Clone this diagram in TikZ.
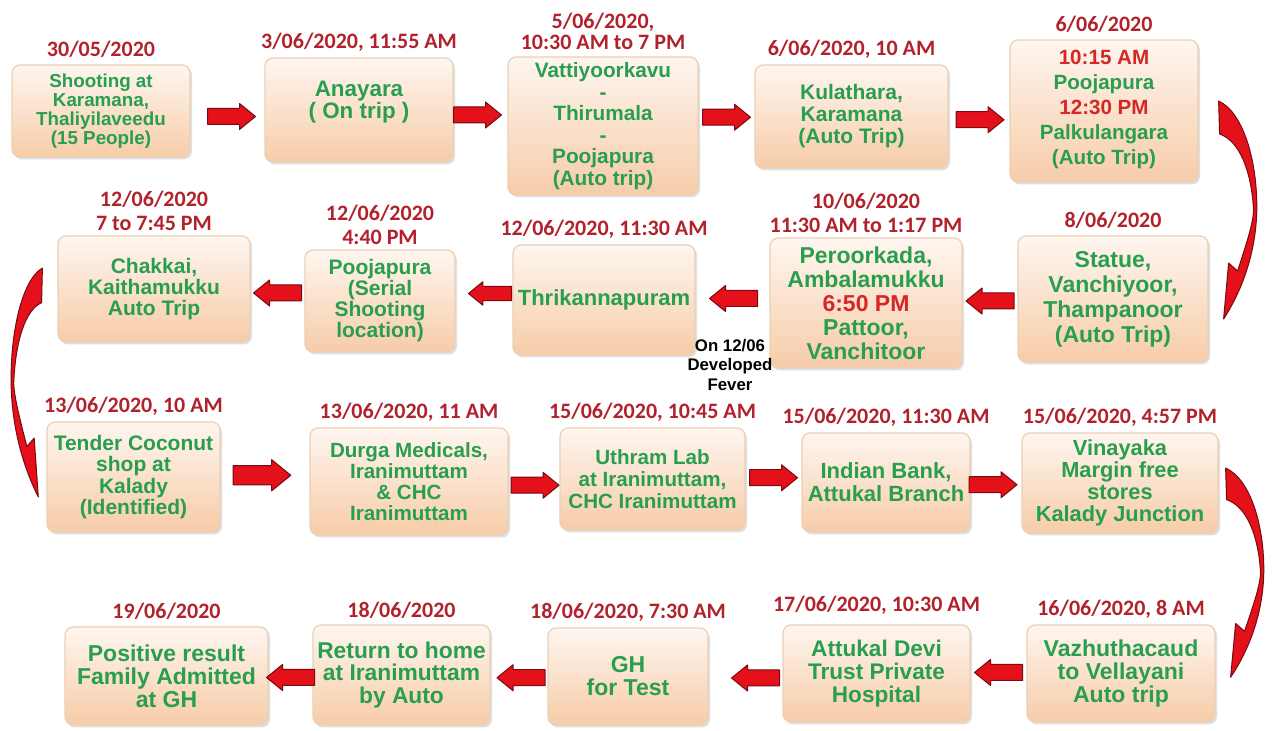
\documentclass[tikz,border=0pt]{standalone}
\usepackage{fontspec}
\usetikzlibrary{positioning,calc,shadows}
\newfontfamily\boxfont{Liberation Sans}
\newfontfamily\datefont{Carlito}
\definecolor{placegreen}{RGB}{40,158,78}
\definecolor{datered}{RGB}{178,34,44}
\definecolor{timered}{RGB}{214,38,38}
\definecolor{boxtop}{RGB}{254,246,240}
\definecolor{boxbottom}{RGB}{247,204,168}
\definecolor{boxline}{RGB}{236,208,182}
\definecolor{arrowred}{RGB}{228,16,26}
\definecolor{arrowdark}{RGB}{120,10,16}
\tikzset{
  txt/.style 2 args={font=\boxfont\bfseries\fontsize{#1}{#2}\selectfont},
  place/.style={draw=boxline, line width=0.6pt, rounded corners=4pt, top color=boxtop, bottom color=boxbottom,
    drop shadow={opacity=0.25, shadow xshift=1pt, shadow yshift=-1.2pt}, align=center, text=placegreen,
    inner sep=1pt, txt={11}{11.5}},
  date/.style={text=datered, align=center, inner sep=1pt, font=\datefont\bfseries\fontsize{11}{12}\selectfont},
  fatarrow/.pic={\draw[fill=arrowred, draw=arrowdark, line width=0.5pt, line join=round]
    (-24,-8)--(8,-8)--(8,-13)--(24,0)--(8,13)--(8,8)--(-24,8)--cycle;},
  bendarrow/.pic={\draw[fill=arrowred, draw=arrowdark, line width=0.5pt, line join=round]
    (0,0) .. controls (26,12) and (40,65) .. (38,115) .. controls (36,155) and (23,190) .. (5,218)
    -- (10,162) -- (19,170) .. controls (27,145) and (34,125) .. (35,110)
    .. controls (33,70) and (21,40) .. (1,33) -- cycle;}
}
\begin{document}
\begin{tikzpicture}[x=0.5pt, y=-0.5pt]
  \fill[white] (0,0) rectangle (1280,731);
  \useasboundingbox (0,0) rectangle (1280,731);
  % first row
  \node[place, txt={9.4}{9.5}, minimum width=89pt, minimum height=46pt] (b1) at (101,111) {Shooting at\\Karamana,\\Thaliyilaveedu\\(15 People)};
  \node[place, txt={11.2}{11}, minimum width=94pt, minimum height=52pt] (b2) at (359,110) {Anayara\\( On trip )\\[-1pt]};
  \node[place, txt={10.4}{10.75}, minimum width=95pt, minimum height=69pt] (b3) at (603,126) {Vattiyoorkavu\\-\\Thirumala\\-\\Poojapura\\(Auto trip)};
  \node[place, txt={10.5}{11}, minimum width=96.5pt, minimum height=51.5pt] (b4) at (851.5,116.5) {Kulathara,\\Karamana\\(Auto Trip)};
  \node[place, txt={10.3}{12.5}, minimum width=94pt, minimum height=71pt] (b5) at (1104,111) {\textcolor{timered}{10:15 AM}\\Poojapura\\\textcolor{timered}{12:30 PM}\\Palkulangara\\(Auto Trip)\\[-9pt]};
  % second row
  \node[place, txt={11.5}{12.5}, minimum width=95pt, minimum height=63pt] (b6) at (1113,299) {Statue,\\Vanchiyoor,\\Thampanoor\\(Auto Trip)};
  \node[place, txt={11.5}{12}, minimum width=96pt, minimum height=65pt] (b7) at (866,303) {Peroorkada,\\Ambalamukku\\\textcolor{timered}{6:50 PM}\\Pattoor,\\Vanchitoor};
  \node[place, minimum width=91pt, minimum height=55pt] (b8) at (604,300) {Thrikannapuram};
  \node[place, txt={10.5}{10.5}, minimum width=75pt, minimum height=51pt] (b9) at (380,301) {Poojapura\\(Serial\\Shooting\\location)};
  \node[place, txt={10.5}{10.5}, minimum width=96pt, minimum height=53pt] (b10) at (154,289) {Chakkai,\\Kaithamukku\\Auto Trip};
  % third row
  \node[place, txt={10.5}{10.75}, minimum width=86.5pt, minimum height=55pt] (b11) at (133.5,477) {Tender Coconut\\shop at\\Kalady\\(Identified)};
  \node[place, txt={10.3}{10.5}, minimum width=99pt, minimum height=53.5pt] (b12) at (409,481.5) {Durga Medicals,\\Iranimuttam\\\& CHC\\Iranimuttam};
  \node[place, txt={10.3}{11}, minimum width=92.5pt, minimum height=51pt] (b13) at (652.5,479) {Uthram Lab\\at Iranimuttam,\\CHC Iranimuttam};
  \node[place, minimum width=84pt, minimum height=49.5pt] (b14) at (886,482.5) {Indian Bank,\\Attukal Branch};
  \node[place, txt={10.9}{11}, minimum width=98pt, minimum height=50pt] (b15) at (1120,483) {Vinayaka\\Margin free\\stores\\Kalady Junction};
  % fourth row
  \node[place, txt={11.5}{11.5}, minimum width=94pt, minimum height=48.5pt] (b16) at (1121,673.5) {Vazhuthacaud\\to Vellayani\\Auto trip};
  \node[place, txt={11.3}{11.5}, minimum width=93.5pt, minimum height=48.5pt] (b17) at (876.5,673.5) {Attukal Devi\\Trust Private\\Hospital};
  \node[place, txt={11.5}{11.5}, minimum width=80pt, minimum height=48.5pt] (b18) at (628,676.5) {GH\\for Test};
  \node[place, txt={11.4}{11.25}, minimum width=88.5pt, minimum height=50pt] (b19) at (401.5,675) {Return to home\\at Iranimuttam\\by Auto};
  \node[place, txt={11.5}{11.5}, minimum width=101.5pt, minimum height=49pt] (b20) at (166.5,676) {Positive result\\Family Admitted\\at GH};
  % dates
  \node[date, above=2pt of b1] (d1) {30/05/2020};
  \node[date, above=2pt of b2] (d2) {3/06/2020, 11:55 AM};
  \node[date, above=2pt of b3, font=\datefont\bfseries\fontsize{11}{10.5}\selectfont] (d3) {5/06/2020,\\10:30 AM to 7 PM};
  \node[date, above=2pt of b4] (d4) {6/06/2020, 10 AM};
  \node[date, above=2pt of b5] (d5) {6/06/2020};
  \node[date, above=2pt of b6] (d6) {8/06/2020};
  \node[date, above=1pt of b7] (d7) {10/06/2020\\11:30 AM to 1:17 PM};
  \node[date, above=2pt of b8] (d8) {12/06/2020, 11:30 AM};
  \node[date, above=1pt of b9] (d9) {12/06/2020\\4:40 PM};
  \node[date, above=1pt of b10] (d10) {12/06/2020\\7 to 7:45 PM};
  \node[date, above=2pt of b11] (d11) {13/06/2020, 10 AM};
  \node[date, above=2pt of b12] (d12) {13/06/2020, 11 AM};
  \node[date, above=2pt of b13] (d13) {15/06/2020, 10:45 AM};
  \node[date, above=2pt of b14] (d14) {15/06/2020, 11:30 AM};
  \node[date, above=2pt of b15] (d15) {15/06/2020, 4:57 PM};
  \node[date, above=2pt of b16] (d16) {16/06/2020, 8 AM};
  \node[date, above=4pt of b17] (d17) {17/06/2020, 10:30 AM};
  \node[date, above=2pt of b18] (d18) {18/06/2020, 7:30 AM};
  \node[date, above=2pt of b19] (d19) {18/06/2020};
  \node[date, above=2pt of b20] (d20) {19/06/2020};
  \node[align=center, inner sep=0pt, txt={8.4}{9.75}] (fever) at (730,365) {On 12/06\\Developed\\Fever};
  % straight arrows
  \foreach \a/\b/\r/\s/\dx/\dy in {b1.east/b2.west/0/1/4/6, b2.east/b3.west/0/1/-3/-3, b3.east/b4.west/0/1/0/-4,
      b4.east/b5.west/0/1/1/6, b6.west/b7.east/180/1/0/0, b7.west/b8.east/180/1/1/-3, b8.west/b9.east/180/0.9/6/-7,
      b9.west/b10.east/180/1/0/-2, b11.east/b12.west/0/1.2/-3/-4, b12.east/b13.west/0/1/1/5, b13.east/b14.west/0/1/0/-3,
      b14.east/b15.west/0/1/-3/2, b16.west/b17.east/180/1/0/-1, b17.west/b18.east/180/1/10/3,
      b18.west/b19.east/180/1/2/2, b19.west/b20.east/180/1/0/2}
    \pic[rotate=\r, scale=\s] at ($(\a)!0.5!(\b)+(\dx,\dy)$) {fatarrow};
  % bent arrows between rows
  \pic at ($(b5.east)+(20,-10)$) {bendarrow};
  \pic[xscale=-0.82, yscale=1.05] at ($(b10.west)+(-15,-21)$) {bendarrow};
  \pic[yscale=0.96] at ($(b15.east)+(7,-15)$) {bendarrow};
\end{tikzpicture}
\end{document}
